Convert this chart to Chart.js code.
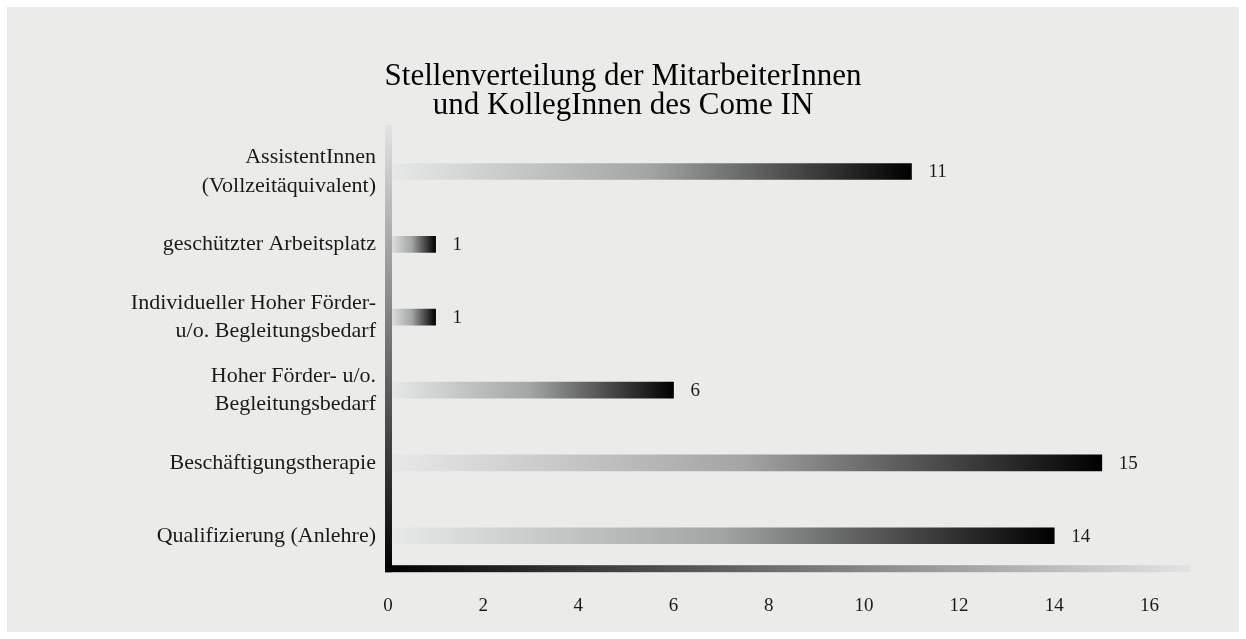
<!DOCTYPE html>
<html>
<head>
<meta charset="utf-8">
<script src="https://cdn.jsdelivr.net/npm/chart.js@4"></script>
<style>
  html, body { margin: 0; padding: 0; background: #fff; }
  #wrap { position: absolute; left: 0; top: 0; width: 1246px; height: 639px; }
</style>
</head>
<body>
<div id="wrap"><canvas id="stellen"></canvas></div>
<script>
const categories = [
  ['AssistentInnen', '(Vollzeitäquivalent)'],
  'geschützter Arbeitsplatz',
  ['Individueller Hoher Förder-', 'u/o. Begleitungsbedarf'],
  ['Hoher Förder- u/o.', 'Begleitungsbedarf'],
  'Beschäftigungstherapie',
  'Qualifizierung (Anlehre)'
]
const stellen = [11, 1, 1, 6, 15, 14]
const titleLines = ['Stellenverteilung der MitarbeiterInnen', 'und KollegInnen des Come IN']

const serif = "'Liberation Serif', 'DejaVu Serif', serif"

// gray panel inside a thin white frame
const panel = {
  id: 'panel',
  beforeDraw(chart) {
    const ctx = chart.ctx
    ctx.save()
    ctx.fillStyle = '#ffffff'
    ctx.fillRect(0, 0, chart.width, chart.height)
    ctx.fillStyle = '#ebecea'
    ctx.fillRect(7, 7, chart.width - 14, chart.height - 14)
    ctx.restore()
  }
}

// shaded axis lines: y fades in from the top, x fades out to the right
const axisLines = {
  id: 'axisLines',
  afterDatasetsDraw(chart) {
    const { ctx, chartArea: a } = chart
    const w = 7
    ctx.save()
    const gy = ctx.createLinearGradient(0, a.top - 10, 0, a.bottom)
    gy.addColorStop(0, '#e2e3e2')
    gy.addColorStop(1, '#000000')
    ctx.fillStyle = gy
    ctx.fillRect(a.left - 3, a.top - 10, w, a.bottom - a.top + 10)
    const gx = ctx.createLinearGradient(a.left - 3, 0, a.right - 7, 0)
    gx.addColorStop(0, '#000000')
    gx.addColorStop(1, '#e2e3e2')
    ctx.fillStyle = gx
    ctx.fillRect(a.left - 3, a.bottom - w, a.right - 7 - a.left + 3, w)
    ctx.restore()
  }
}

// value printed after each bar
const valueLabels = {
  id: 'valueLabels',
  afterDatasetsDraw(chart) {
    const ctx = chart.ctx
    const meta = chart.getDatasetMeta(0)
    ctx.save()
    ctx.font = '19px ' + serif
    ctx.fillStyle = '#1a1a1a'
    ctx.textAlign = 'left'
    ctx.textBaseline = 'middle'
    meta.data.forEach((bar, i) => {
      ctx.fillText(String(stellen[i]), bar.x + 17, bar.y + 1)
    })
    ctx.restore()
  }
}

const barFill = context => {
  const chart = context.chart
  if (!chart.chartArea) return '#888'
  const x = chart.scales.x
  const v = context.raw
  const x0 = x.getPixelForValue(0)
  const x1 = x.getPixelForValue(v)
  const g = chart.ctx.createLinearGradient(x0, 0, x1, 0)
  g.addColorStop(0, '#e8e9e9')
  g.addColorStop(0.5, '#a3a4a4')
  g.addColorStop(1, '#000000')
  return g
}

new Chart(document.getElementById('stellen'), {
  type: 'bar',
  data: {
    labels: categories,
    datasets: [{
      data: stellen,
      backgroundColor: barFill,
      borderWidth: 0,
      barThickness: 16
    }]
  },
  options: {
    indexAxis: 'y',
    responsive: true,
    maintainAspectRatio: false,
    animation: false,
    layout: { padding: { left: 49, right: 49, top: 0, bottom: 0 } },
    plugins: {
      legend: { display: false },
      tooltip: { enabled: false },
      title: {
        display: true,
        text: titleLines,
        color: '#000',
        font: { family: serif, size: 31, weight: 'normal', lineHeight: 0.92 },
        padding: { top: 63, bottom: 15 }
      }
    },
    scales: {
      x: {
        min: 0,
        max: 17,
        grid: { display: false, drawTicks: false },
        border: { display: false },
        ticks: {
          stepSize: 2,
          padding: 22,
          color: '#1a1a1a',
          font: { family: serif, size: 19 },
          callback: v => (v % 2 === 0 ? v : '')
        }
      },
      y: {
        grid: { display: false, drawTicks: false },
        border: { display: false },
        afterFit: scale => { scale.width = 339 },
        ticks: {
          padding: 12,
          color: '#1a1a1a',
          font: { family: serif, size: 22, lineHeight: 1.3 }
        }
      }
    }
  },
  plugins: [panel, axisLines, valueLabels]
})
</script>
</body>
</html>
